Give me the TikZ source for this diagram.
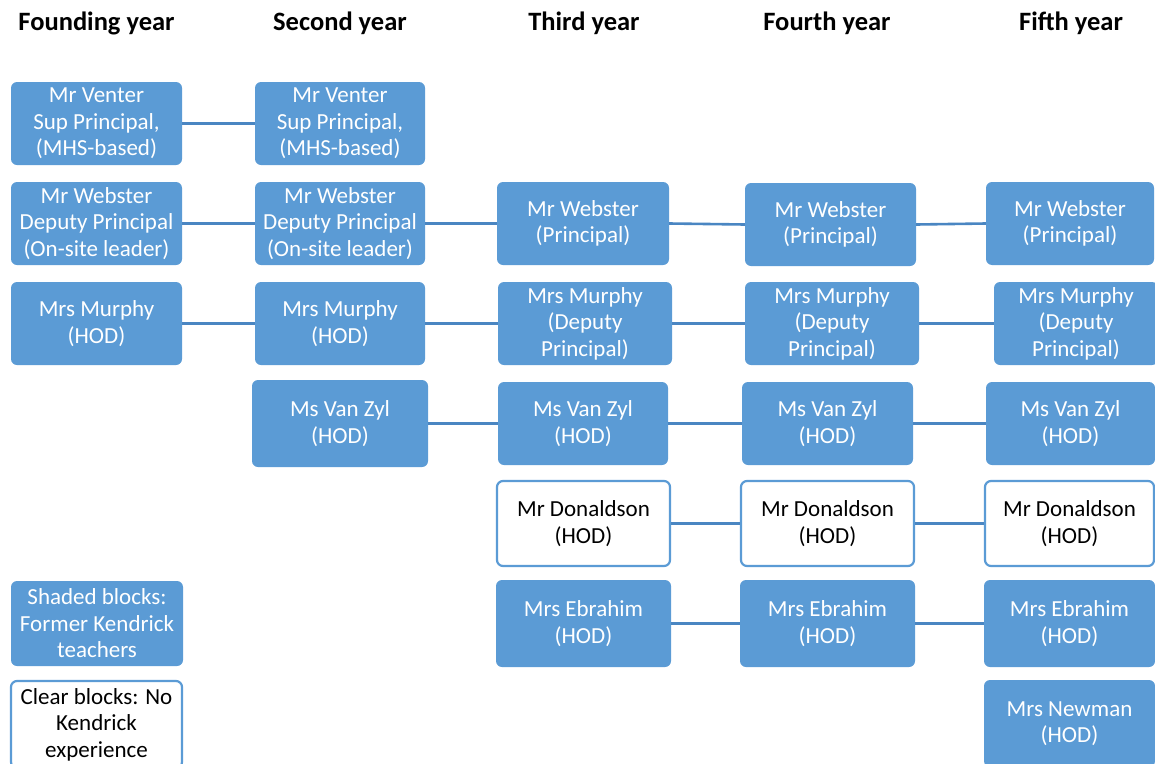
\documentclass[tikz,border=0pt]{standalone}
\usepackage{fontspec}
\setmainfont{Carlito}
\definecolor{boxblue}{HTML}{5B9BD5}
\definecolor{lineblue}{HTML}{4A86C2}
\begin{document}
\begin{tikzpicture}[x=1pt,y=-1pt,
  base/.style={rounded corners=6pt, align=center, inner sep=0pt,
    font=\fontsize{23}{26.5}\selectfont},
  fbox/.style={base, fill=boxblue, text=white},
  cbox/.style={base, fill=white, draw=boxblue, line width=2.2pt, text=black},
  hdr/.style={font=\fontsize{26.5}{30}\selectfont\bfseries, text=black},
  conn/.style={draw=lineblue, line width=2.6pt}]
\useasboundingbox (0,0) rectangle (1155,763);
\clip (0,0) rectangle (1155,763);
% headers
\node[hdr] (h1) at (96.5,23) {Founding year};
\node[hdr] (h2) at (340,23) {Second year};
\node[hdr] (h3) at (584,23) {Third year};
\node[hdr] (h4) at (827,23) {Fourth year};
\node[hdr] (h5) at (1071,23) {Fifth year};
% row Venter
\node[fbox, minimum width=171pt, minimum height=83pt] (v1) at (96.5,123.5) {Mr Venter\\Sup Principal,\\(MHS-based)};
\node[fbox, minimum width=170pt, minimum height=83pt] (v2) at (340,123.5) {Mr Venter\\Sup Principal,\\(MHS-based)};
% row Webster
\node[fbox, minimum width=171pt, minimum height=83pt] (w1) at (96.5,223.5) {Mr Webster\\Deputy Principal\\(On-site leader)};
\node[fbox, minimum width=170pt, minimum height=83pt] (w2) at (340,223.5) {Mr Webster\\Deputy Principal\\(On-site leader)};
\node[fbox, minimum width=172pt, minimum height=83pt] (w3) at (583,223.5) {Mr Webster\\(Principal)};
\node[fbox, minimum width=171pt, minimum height=83pt] (w4) at (830.5,224.5) {Mr Webster\\(Principal)};
\node[fbox, minimum width=168pt, minimum height=83pt] (w5) at (1070,223.5) {Mr Webster\\(Principal)};
% row Murphy
\node[fbox, minimum width=171pt, minimum height=83pt] (m1) at (96.5,323.5) {Mrs Murphy\\(HOD)};
\node[fbox, minimum width=170pt, minimum height=83pt] (m2) at (340,323.5) {Mrs Murphy\\(HOD)};
\node[fbox, minimum width=174pt, minimum height=83pt] (m3) at (585,323.5) {Mrs Murphy\\(Deputy\\Principal)};
\node[fbox, minimum width=174pt, minimum height=83pt] (m4) at (832,323.5) {Mrs Murphy\\(Deputy\\Principal)};
\node[fbox, minimum width=164pt, minimum height=83pt] (m5) at (1076,323.5) {Mrs Murphy\\(Deputy\\Principal)};
% row Van Zyl
\node[fbox, minimum width=176pt, minimum height=87pt] (z2) at (340,423.5) {Ms Van Zyl\\(HOD)};
\node[fbox, minimum width=170pt, minimum height=83pt] (z3) at (583,423.5) {Ms Van Zyl\\(HOD)};
\node[fbox, minimum width=171pt, minimum height=83pt] (z4) at (827.5,423.5) {Ms Van Zyl\\(HOD)};
\node[fbox, minimum width=169pt, minimum height=83pt] (z5) at (1070.5,423.5) {Ms Van Zyl\\(HOD)};
% row Donaldson
\node[cbox, minimum width=173pt, minimum height=85pt] (d3) at (583.5,523.5) {Mr Donaldson\\(HOD)};
\node[cbox, minimum width=173pt, minimum height=85pt] (d4) at (827.5,523.5) {Mr Donaldson\\(HOD)};
\node[cbox, minimum width=169pt, minimum height=85pt] (d5) at (1069.5,523.5) {Mr Donaldson\\(HOD)};
% row Ebrahim
\node[fbox, minimum width=175pt, minimum height=87pt] (e3) at (583.5,623.5) {Mrs Ebrahim\\(HOD)};
\node[fbox, minimum width=175pt, minimum height=87pt] (e4) at (827.5,623.5) {Mrs Ebrahim\\(HOD)};
\node[fbox, minimum width=171pt, minimum height=87pt] (e5) at (1069.5,623.5) {Mrs Ebrahim\\(HOD)};
% Newman
\node[fbox, minimum width=171pt, minimum height=87pt] (n5) at (1069.5,723.5) {Mrs Newman\\(HOD)};
% legend
\node[fbox, minimum width=172pt, minimum height=85pt] (ls) at (97,623.5) {Shaded blocks:\\Former Kendrick\\teachers};
\node[cbox, minimum width=171pt, minimum height=87pt] (lc) at (96.5,724.5) {Clear blocks: No\\Kendrick\\experience};
% connectors
\draw[conn] (v1.east) -- (v2.west);
\draw[conn] (w1.east) -- (w2.west);
\draw[conn] (w2.east) -- (w3.west);
\draw[conn] (w3.east) -- (w4.west);
\draw[conn] (w4.east) -- (w5.west);
\draw[conn] (m1.east) -- (m2.west);
\draw[conn] (m2.east) -- (m3.west);
\draw[conn] (m3.east) -- (m4.west);
\draw[conn] (m4.east) -- (m5.west);
\draw[conn] (z2.east) -- (z3.west);
\draw[conn] (z3.east) -- (z4.west);
\draw[conn] (z4.east) -- (z5.west);
\draw[conn] (d3.east) -- (d4.west);
\draw[conn] (d4.east) -- (d5.west);
\draw[conn] (e3.east) -- (e4.west);
\draw[conn] (e4.east) -- (e5.west);
\end{tikzpicture}
\end{document}
